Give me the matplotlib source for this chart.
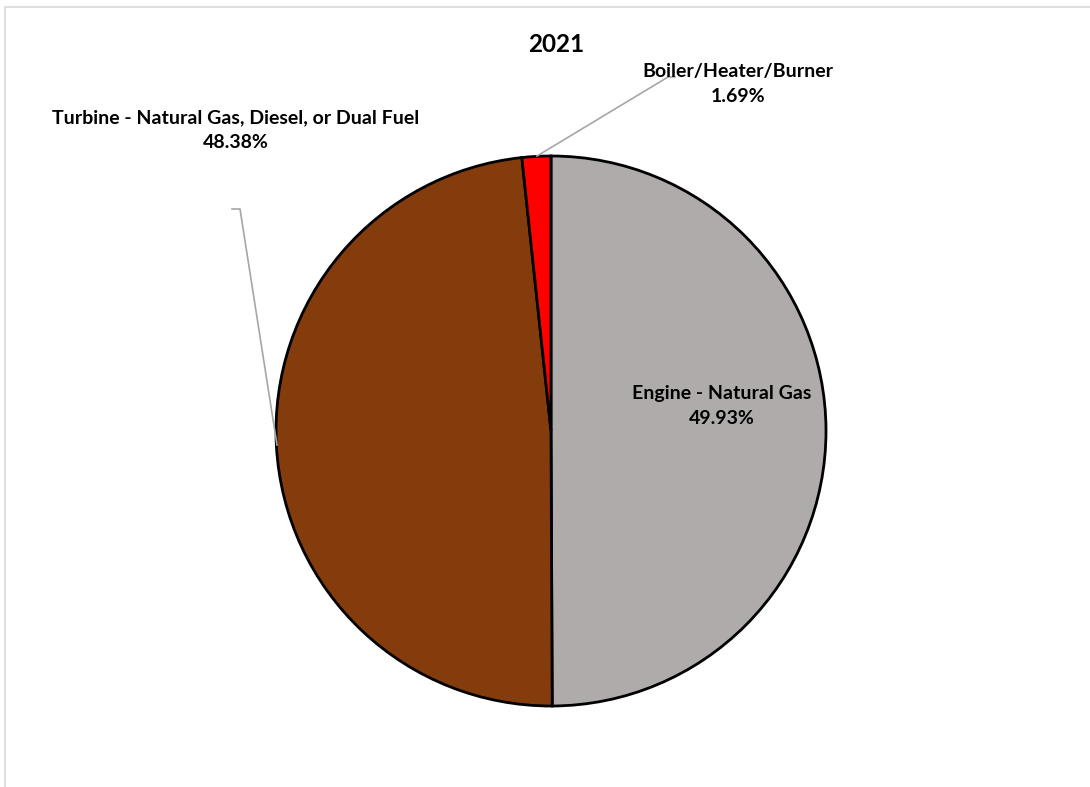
import matplotlib.pyplot as plt
from matplotlib.patches import Rectangle

# %% data
labels = ["Engine - Natural Gas", "Turbine - Natural Gas, Diesel, or Dual Fuel", "Boiler/Heater/Burner"]
shares = [49.93, 48.38, 1.69]
colours = ["#AFABAB", "#843C0C", "#FF0000"]
title = "2021"

plt.rcParams['font.family'] = ['Lato', 'DejaVu Sans']

W, H = 1090, 787
fig = plt.figure(figsize=(W / 100, H / 100), dpi=100)
ax = fig.add_axes([0, 0, 1, 1])

def py(y):
    # pixel rows from the top -> axes y
    return H - y

cx, cy, r = 551, 431, 275
ax.pie(shares, colors=colours, startangle=90, counterclock=False,
       center=(cx, py(cy)), radius=r, frame=True,
       wedgeprops=dict(edgecolor='black', linewidth=2))
ax.set_xlim(0, W)
ax.set_ylim(0, H)
ax.set_aspect('auto')
ax.axis('off')

# outer frame
ax.add_patch(Rectangle((5, py(H + 20)), W + 20, H + 13, fill=False,
                       edgecolor='#D9D9D9', linewidth=1.2, clip_on=False))

ax.text(cx + 5, py(45), title, ha='center', va='center', fontsize=17.5, fontweight='bold')

fs = 14
ls = 1.55
lead = '#A6A6A6'
# engine label inside the slice
ax.text(722, py(406), f"{labels[0]}\n{shares[0]:.2f}%", ha='center', va='center',
        fontsize=fs, fontweight='bold', linespacing=ls)
# turbine label with leader line
ax.text(236, py(130), f"{labels[1]}\n{shares[1]:.2f}%", ha='center', va='center',
        fontsize=fs, fontweight='bold', linespacing=ls)
ax.plot([232, 240, 277], [py(209), py(209), py(445)], color=lead, lw=1.2)
# boiler label with leader line
ax.text(738, py(84), f"{labels[2]}\n{shares[2]:.2f}%", ha='center', va='center',
        fontsize=fs, fontweight='bold', linespacing=ls)
ax.plot([537, 668, 675], [py(156), py(77), py(77)], color=lead, lw=1.2)

fig.savefig("out.png", dpi=100)
